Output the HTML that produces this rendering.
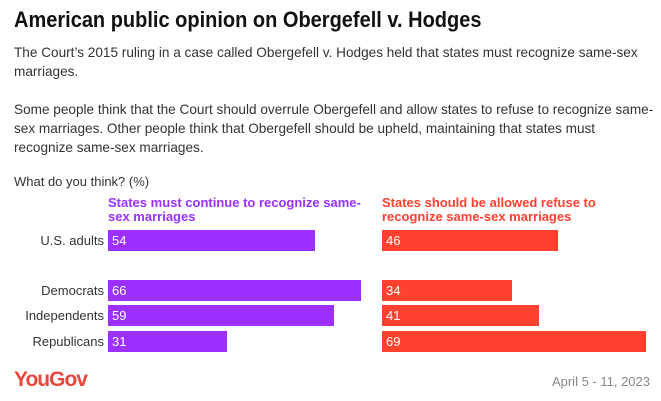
<!DOCTYPE html>
<html><head><meta charset="utf-8"><style>
body{margin:0;background:#fff;font-family:"Liberation Sans",sans-serif;color:#333;}
#root{position:relative;width:661px;height:401px;overflow:hidden;}
.t{position:absolute;white-space:nowrap;}
</style></head><body>
<div id="root">
<div class="t" style="left:14px;top:8px;font-size:20px;font-weight:bold;color:#111;transform:scaleY(1.12);transform-origin:left top;">American public opinion on Obergefell v. Hodges</div>
<div class="t" style="left:14px;top:43px;font-size:13.6px;line-height:19px;">The Court’s 2015 ruling in a case called Obergefell v. Hodges held that states must recognize same-sex<br>marriages.</div>
<div class="t" style="left:14px;top:100px;font-size:13.6px;line-height:19px;">Some people think that the Court should overrule Obergefell and allow states to refuse to recognize same-<br>sex marriages. Other people think that Obergefell should be upheld, maintaining that states must<br>recognize same-sex marriages.</div>
<div class="t" style="left:14px;top:174px;font-size:13px;">What do you think? (%)</div>
<div class="t" style="left:108px;top:196px;font-size:13px;font-weight:bold;line-height:14px;color:#9b30ff;">States must continue to recognize same-<br>sex marriages</div>
<div class="t" style="left:382px;top:196px;font-size:13px;font-weight:bold;line-height:14px;color:#ff4130;">States should be allowed refuse to<br>recognize same-sex marriages</div>
<div id="bars"></div>
<div class="t" style="left:14px;top:368px;font-size:21px;font-weight:bold;color:#e8473a;letter-spacing:-1px;">YouGov</div>
<div class="t" style="right:11px;top:374px;font-size:13px;color:#888;">April 5 - 11, 2023</div>
</div>
<script>
const categories=["U.S. adults","Democrats","Independents","Republicans"];
const recognize=[54,66,59,31];
const refuse=[46,34,41,69];
const rowTop=[230,280,305,331];
const scale=3.83, h=21;
const root=document.getElementById('bars');
function mk(css,txt){const d=document.createElement('div');d.className='t';d.style.cssText=css;if(txt!=null)d.textContent=txt;root.appendChild(d);return d;}
categories.forEach((c,i)=>{
  const y=rowTop[i];
  const l=mk(`right:557px;top:${y+3}px;font-size:13px;color:#333;`,c);
  
  
  const b1=mk(`left:108px;top:${y}px;width:${recognize[i]*scale}px;height:${h}px;background:#9b30ff;color:#fff;font-size:13px;line-height:${h}px;box-sizing:border-box;padding-left:4px;`,recognize[i]);
  
  
  const b2=mk(`left:382px;top:${y}px;width:${refuse[i]*scale}px;height:${h}px;background:#ff4130;color:#fff;font-size:13px;line-height:${h}px;box-sizing:border-box;padding-left:4px;`,refuse[i]);
  
  
});
</script>
</body></html>
